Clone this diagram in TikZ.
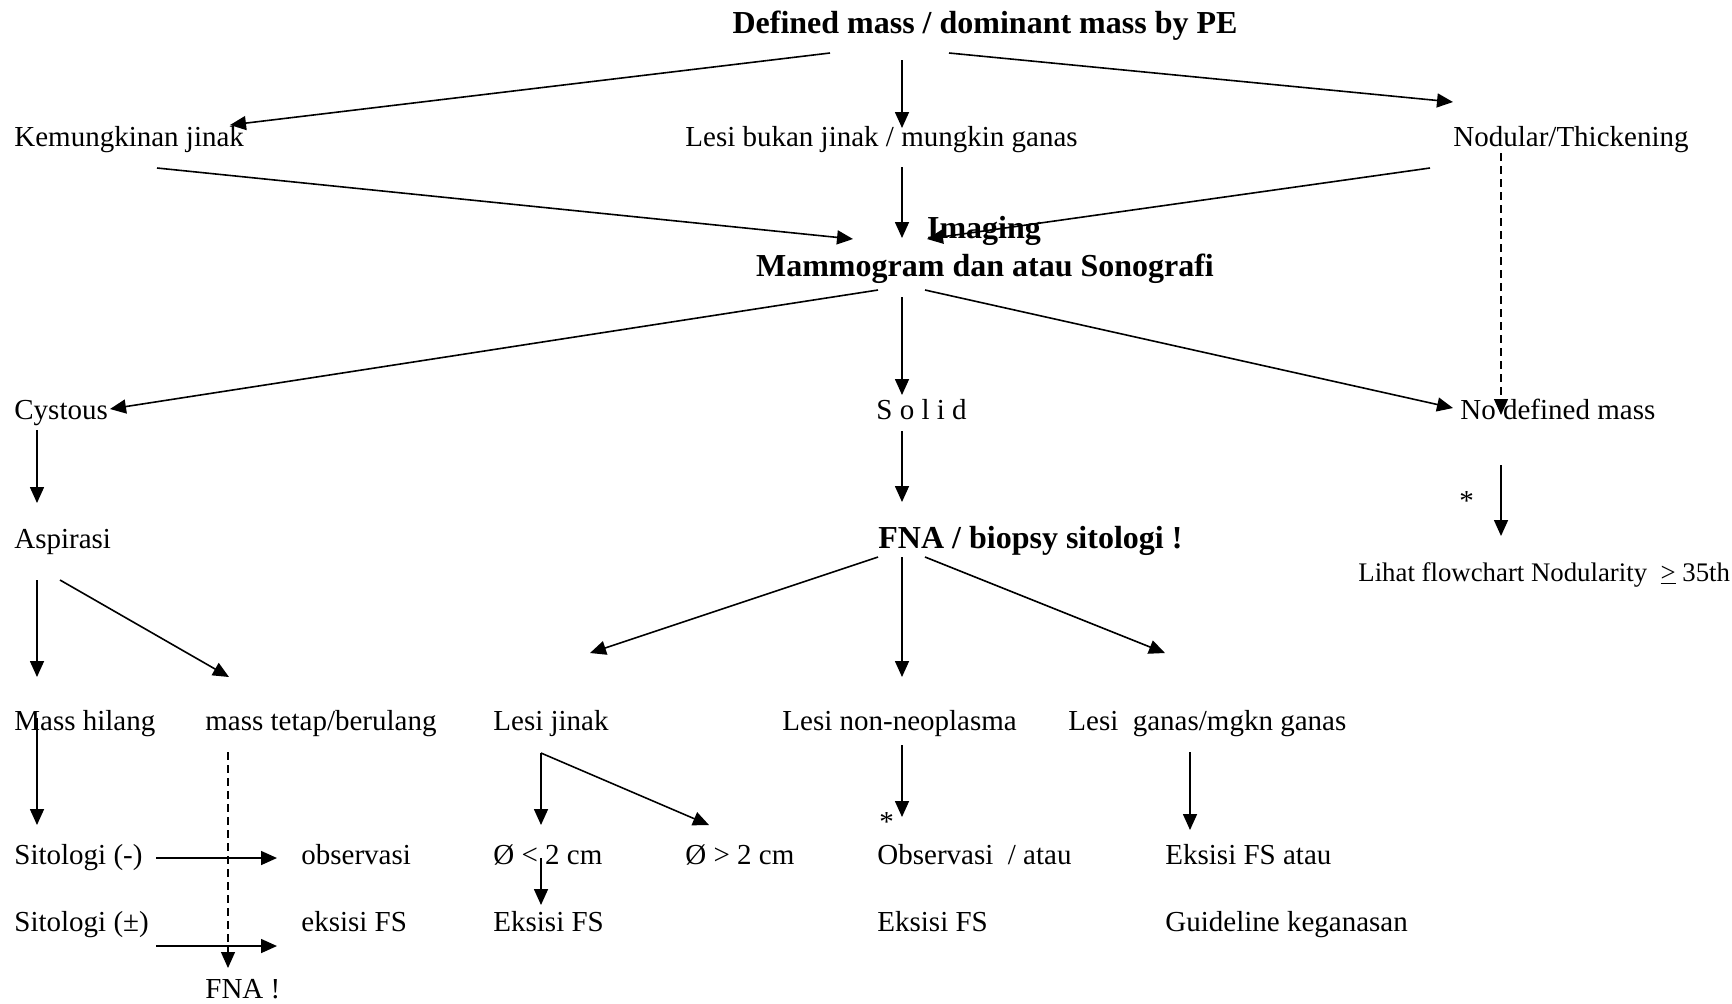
\documentclass[tikz,border=0pt]{standalone}
\usepackage{fontspec}
\setmainfont{Liberation Serif}
\usetikzlibrary{arrows.meta,calc}

\begin{document}
\begin{tikzpicture}[x=0.5pt,y=-0.5pt,>={Triangle[length=8pt,width=7pt]},
		every node/.style={anchor=base west,inner sep=0pt,font=\fontsize{14.5}{17}\selectfont},
		head/.style={font=\fontsize{16}{19}\selectfont\bfseries},
		arr/.style={->,line width=0.8pt},
		dsh/.style={->,line width=0.6pt,dash pattern=on 4pt off 2.5pt}]
		\useasboundingbox (0,0) rectangle (1732,1003);
		% level 1
		\node[head,anchor=base] (top) at (985,33) {Defined mass / dominant mass by PE};
		\node (jinak) at (14,146) {Kemungkinan jinak};
		\node (bukan) at (685,146) {Lesi bukan jinak / mungkin ganas};
		\node (nodular) at (1453,146) {Nodular/Thickening};
		\node[head,anchor=base] (imaging) at (984,238) {Imaging};
		\node[head,anchor=base] (mammo) at (985,276) {Mammogram dan atau Sonografi};
		% level 2
		\node (cystous) at (14,419) {Cystous};
		\node (solid) at (876,419) {S o l i d};
		\node (nodef) at (1460,419) {No defined mass};
		\node (star1) at (1459,510) {*};
		\node (aspirasi) at (14,548) {Aspirasi};
		\node[head] (fna) at (878,548) {FNA / biopsy sitologi !};
		\node[font=\fontsize{13.4}{16}\selectfont] (lihat) at (1358,581) {Lihat flowchart Nodularity\ \ \underline{>}\ 35th};
		% level 3
		\node (hilang) at (14,730) {Mass hilang};
		\node (tetap) at (205,730) {mass tetap/berulang};
		\node (lesijinak) at (493,730) {Lesi jinak};
		\node (nonneo) at (782,730) {Lesi non-neoplasma};
		\node (ganas) at (1068,730) {Lesi\ \ ganas/mgkn ganas};
		% level 4
		\node (sitneg) at (14,864) {Sitologi (-)};
		\node (obs) at (301,864) {observasi};
		\node (kecil) at (493,864) {Ø < 2 cm};
		\node (besar) at (685,864) {Ø > 2 cm};
		\node (star2) at (879,831) {*};
		\node (obsatau) at (877,864) {Observasi\ \ / atau};
		\node (eksatau) at (1165,864) {Eksisi FS atau};
		\node (sitpm) at (14,931) {Sitologi (±)};
		\node (eksfs1) at (301,931) {eksisi FS};
		\node (eksfs2) at (493,931) {Eksisi FS};
		\node (eksfs3) at (877,931) {Eksisi FS};
		\node (guide) at (1165,931) {Guideline keganasan};
		\node (fnabang) at (205,998) {FNA !};
		\coordinate (fork) at ($(lesijinak.base west)+(48,23)$);

		% connectors
		\draw[arr] ($(top.base)+(-155,20)$) -- ($(jinak.base west)+(216,-21)$);
		\draw[arr] ($(top.base)+(-83,27)$) -- ($(bukan.base west)+(217,-18)$);
		\draw[arr] ($(top.base)+(-36,20)$) -- ($(nodular.base west)+(0,-44)$);
		\draw[arr] ($(jinak.base west)+(143,22)$) -- ($(imaging.base)+(-131,1)$);
		\draw[arr] ($(bukan.base west)+(217,21)$) -- ($(imaging.base)+(-82,0)$);
		\draw[arr] ($(nodular.base west)+(-23,22)$) -- ($(imaging.base)+(-57,1)$);
		\draw[dsh] ($(nodular.base west)+(48,7)$) -- ($(nodef.base west)+(41,-4)$);
		\draw[arr] ($(mammo.base)+(-107,14)$) -- ($(cystous.base west)+(96,-10)$);
		\draw[arr] ($(mammo.base)+(-83,21)$) -- ($(solid.base west)+(26,-24)$);
		\draw[arr] ($(mammo.base)+(-60,14)$) -- ($(nodef.base west)+(-7,-11)$);
		\draw[arr] ($(nodef.base west)+(41,46)$) -- ($(lihat.base west)+(143,-45)$);
		\draw[arr] ($(cystous.base west)+(23,11)$) -- ($(aspirasi.base west)+(23,-45)$);
		\draw[arr] ($(solid.base west)+(26,12)$) -- ($(fna.base west)+(24,-46)$);
		\draw[arr] ($(aspirasi.base west)+(23,32)$) -- ($(hilang.base west)+(23,-53)$);
		\draw[arr] ($(aspirasi.base west)+(46,32)$) -- ($(tetap.base west)+(24,-53)$);
		\draw[arr] ($(fna.base west)+(0,9)$) -- ($(lesijinak.base west)+(97,-77)$);
		\draw[arr] ($(fna.base west)+(24,9)$) -- ($(nonneo.base west)+(120,-53)$);
		\draw[arr] ($(fna.base west)+(47,9)$) -- ($(ganas.base west)+(97,-77)$);
		\draw[arr] ($(hilang.base west)+(23,-12)$) -- ($(sitneg.base west)+(23,-39)$);
		\draw[dsh] ($(tetap.base west)+(23,22)$) -- ($(fnabang.base west)+(23,-30)$);
		\draw[arr] ($(sitneg.base west)+(142,-6)$) -- ($(obs.base west)+(-24,-6)$);
		\draw[arr] ($(sitpm.base west)+(142,15)$) -- ($(eksfs1.base west)+(-24,15)$);
		\draw[arr] (fork) -- ($(kecil.base west)+(48,-39)$);
		\draw[arr] (fork) -- ($(besar.base west)+(24,-39)$);
		\draw[arr] ($(kecil.base west)+(48,-6)$) -- ($(eksfs2.base west)+(48,-26)$);
		\draw[arr] ($(nonneo.base west)+(120,15)$) -- ($(obsatau.base west)+(25,-47)$);
		\draw[arr] ($(ganas.base west)+(122,22)$) -- ($(eksatau.base west)+(25,-34)$);
\end{tikzpicture}
\end{document}
